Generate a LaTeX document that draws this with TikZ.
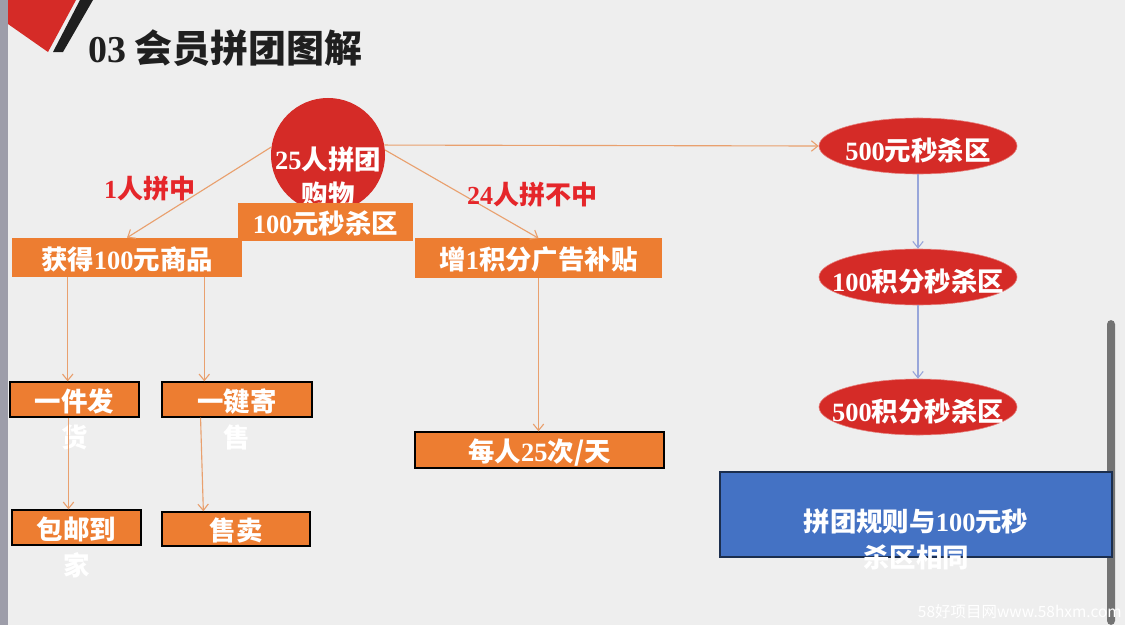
\documentclass[tikz,border=0pt]{standalone}
\usepackage{fontspec}
\setmainfont{Noto Sans CJK SC}
\newfontfamily\latinfont{Liberation Serif}
\newcommand\dg[1]{{\latinfont\bfseries #1}}
\newcommand\twolines[2]{\begin{tabular}[t]{@{}c@{}}#1\\#2\end{tabular}}
\usetikzlibrary{positioning,arrows.meta,shapes.geometric}
\definecolor{pptorange}{HTML}{ED7D31}
\definecolor{pptred}{HTML}{D52B27}
\definecolor{pptblue}{HTML}{4472C4}
\definecolor{lblred}{HTML}{E5262A}
\definecolor{lineorange}{HTML}{E9A06E}
\definecolor{lineblue}{HTML}{98A6DA}
\definecolor{bggray}{HTML}{EEEEEE}

\begin{document}
\begin{tikzpicture}[x=0.025cm,y=-0.025cm,font=\bfseries\fontsize{18.8}{25.5}\selectfont,
       obox/.style={fill=pptorange,text=white,inner sep=0pt,align=center,text height=18pt,text depth=1pt},
       kbox/.style={obox,draw=black,line width=0.9pt},
       redell/.style={ellipse,fill=pptred,draw=pptred!60!white,text=white,inner sep=0pt,inner xsep=-0.45cm,minimum width=4.95cm,minimum height=1.4cm,text height=21pt,text depth=1pt},
       oline/.style={draw=lineorange,line width=0.8pt,-{Straight Barb[length=1.6mm,width=2.6mm]}},
       bline/.style={draw=lineblue,line width=0.8pt,-{Straight Barb[length=1.6mm,width=2.6mm]}},
       lbl/.style={text=lblred,font=\bfseries\fontsize{18.5}{22}\selectfont}]
  \useasboundingbox (0,0) rectangle (1125,625);
  \fill[bggray] (0,0) rectangle (1125,625);
  \fill[black!30!blue!10!gray!70] (0,0) rectangle (8,625);
  % corner mark and title
  \fill[pptred] (8,0) -- (76,0) -- (48,52) -- (8,24) -- cycle;
  \fill[black!88] (80,0) -- (93,0) -- (63,52) -- (53,52) -- cycle;
  \node[anchor=west,inner sep=0pt,text=black!88,font=\bfseries\fontsize{27}{32}\selectfont] (title) at (88,48) {\dg{03} 会员拼团图解};
  \fill[black!55,rounded corners=3pt] (1107,320) rectangle (1115,625);
  % group buying circle
  \node[circle,fill=pptred,text=white,minimum size=2.85cm,inner sep=0pt,text height=21pt,text depth=1pt] (C) at (328,155) {\twolines{\dg{25}人拼团}{购物}};
  \node[obox,minimum width=4.375cm,minimum height=0.925cm] (R) at (325.5,222) {\dg{100}元秒杀区};
  \node[obox,minimum width=5.75cm,minimum height=0.975cm] (W) at (127,257.5) {获得\dg{100}元商品};
  \node[obox,minimum width=6.175cm,minimum height=0.975cm] (P) at (538.5,258) {增\dg{1}积分广告补贴};
  \node[kbox,minimum width=3.225cm,minimum height=0.875cm] (G1) at (74.5,399.5) {\twolines{一件发}{货}};
  \node[kbox,minimum width=3.75cm,minimum height=0.875cm] (G2) at (237,399.5) {\twolines{一键寄}{售}};
  \node[kbox,minimum width=3.225cm,minimum height=0.875cm] (H1) at (76.5,527.5) {\twolines{包邮到}{家}};
  \node[kbox,minimum width=3.7cm,minimum height=0.85cm] (H2) at (236,529) {售卖};
  \node[kbox,minimum width=6.225cm,minimum height=0.9cm] (Q) at (539.5,450) {每人\dg{25}次/天};
  % seckill zones
  \node[redell] (E1) at (918,146) {\dg{500}元秒杀区};
  \node[redell] (E2) at (918,277) {\dg{100}积分秒杀区};
  \node[redell] (E3) at (918,407) {\dg{500}积分秒杀区};
  \node[fill=pptblue,draw=pptblue!40!black,line width=1pt,text=white,minimum width=9.8cm,minimum height=2.125cm,text height=26pt,text depth=1.2pt] (B) at (916,514.5) {\twolines{拼团规则与\dg{100}元秒}{杀区相同}};
  % connectors
  \draw[oline] (C.172) -- (W.north) node[midway,left=-1pt,yshift=0.1cm,lbl]{\dg{1}人拼中};
  \draw[oline] (C.5) -- (P.north) node[midway,right=0pt,lbl]{\dg{24}人拼不中};
  \draw[oline] (C.10) -- (E1.west);
  \draw[oline] ([xshift=1.4cm]W.south west) -- ([xshift=1.4cm]W.south west |- G1.north);
  \draw[oline] ([xshift=-0.95cm]W.south east) -- ([xshift=-0.95cm]W.south east |- G2.north);
  \draw[oline] ([xshift=-0.15cm]G1.south) -- ([xshift=-0.15cm]G1.south |- H1.north);
  \draw[oline] ([xshift=0.98cm]G2.south west) -- ([xshift=1.05cm]H2.north west);
  \draw[oline] (P.south) -- (P.south |- Q.north);
  \draw[bline] (E1.south) -- (E2.north);
  \draw[bline] (E2.south) -- (E3.north);
  % watermark
  \node[anchor=east,inner sep=0pt,text=white,font=\fontsize{11}{13}\selectfont] (mark) at (1122,612) {58好项目网www.58hxm.com};
\end{tikzpicture}
\end{document}
